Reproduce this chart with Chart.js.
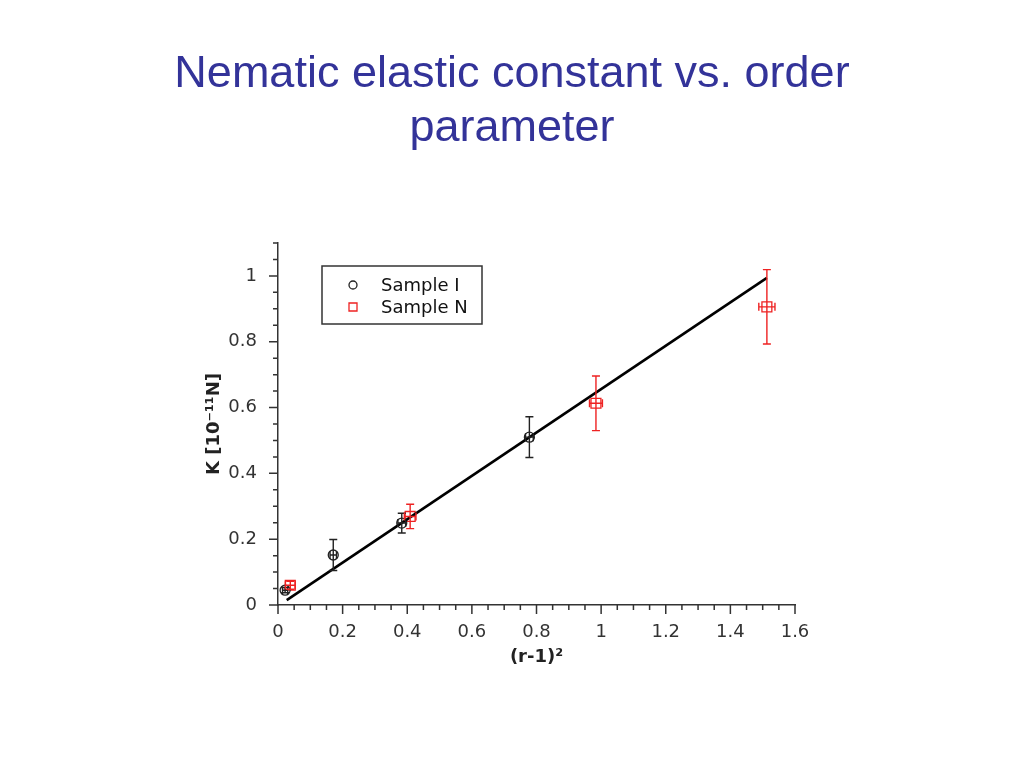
<!DOCTYPE html>
<html>
<head>
<meta charset="utf-8">
<script src="https://cdn.jsdelivr.net/npm/chart.js@4.4.1/dist/chart.umd.min.js"></script>
<style>
  html, body { margin: 0; padding: 0; background: #fff; }
  #wrap { position: relative; width: 1024px; height: 768px; }
  #kChart { position: absolute; left: 0; top: 0; }
  #title {
    position: absolute; left: 0; top: 45px; width: 1024px;
    text-align: center; color: #333399;
    font: 45px "Liberation Sans", Arial, sans-serif; line-height: 54px;
  }
</style>
</head>
<body>
<div id="wrap">
  <canvas id="kChart" width="1024" height="768"></canvas>
  <div id="title">Nematic elastic constant vs. order<br>parameter</div>
</div>
<script>
// values
const sampleIX    = [0.022, 0.171, 0.383, 0.778];
const sampleIY    = [0.045, 0.152, 0.249, 0.510];
const sampleIXErr = [0.008, 0.010, 0.012, 0.012];
const sampleIYErr = [0.008, 0.047, 0.030, 0.062];

const sampleNX    = [0.038, 0.409, 0.984, 1.513];
const sampleNY    = [0.060, 0.269, 0.613, 0.906];
const sampleNXErr = [0.015, 0.018, 0.020, 0.025];
const sampleNYErr = [0.012, 0.037, 0.083, 0.113];

const fitX = [0.027, 1.513];
const fitY = [0.015, 0.994];

const xRange = [0, 1.6];
const yRange = [0, 1.1];
const minorStep = 0.05;
const majorStep = 0.2;

const tickFont = { family: "'DejaVu Sans', sans-serif", size: 18 };
const titleFont = { family: "'DejaVu Sans', sans-serif", size: 18, weight: 'bold' };
const axisColor = '#333';
const red = '#ee2222';

const toPoints = (xs, ys) => xs.map((x, i) => ({ x: x, y: ys[i] }));
const isMajor = v => Math.abs(v / majorStep - Math.round(v / majorStep)) < 1e-6;
const tickLabel = v => isMajor(v) ? String(Math.round(v * 10) / 10) : '';

// major / minor ticks, pointing outward
const tickMarks = {
  id: 'tickMarks',
  afterDraw(chart) {
    const ctx = chart.ctx, xs = chart.scales.x, ys = chart.scales.y;
    ctx.save();
    ctx.strokeStyle = axisColor;
    ctx.lineWidth = 1.5;
    ctx.beginPath();
    xs.ticks.forEach(t => {
      const px = xs.getPixelForValue(t.value);
      ctx.moveTo(px, xs.top);
      ctx.lineTo(px, xs.top + (isMajor(t.value) ? 9 : 5));
    });
    ys.ticks.forEach(t => {
      const py = ys.getPixelForValue(t.value);
      ctx.moveTo(ys.right, py);
      ctx.lineTo(ys.right - (isMajor(t.value) ? 9 : 5), py);
    });
    ctx.stroke();
    ctx.restore();
  }
};

// error bars with caps in both directions
const errorBars = {
  id: 'errorBars',
  afterDatasetsDraw(chart) {
    const ctx = chart.ctx, xs = chart.scales.x, ys = chart.scales.y;
    const cap = 4;
    chart.data.datasets.forEach(ds => {
      if (!ds.yErr) return;
      ctx.save();
      ctx.strokeStyle = ds.borderColor;
      ctx.lineWidth = 1.4;
      ctx.beginPath();
      ds.data.forEach((p, i) => {
        const px = xs.getPixelForValue(p.x), py = ys.getPixelForValue(p.y);
        const top = ys.getPixelForValue(p.y + ds.yErr[i]);
        const bot = ys.getPixelForValue(p.y - ds.yErr[i]);
        const lft = xs.getPixelForValue(p.x - ds.xErr[i]);
        const rgt = xs.getPixelForValue(p.x + ds.xErr[i]);
        ctx.moveTo(px, top); ctx.lineTo(px, bot);
        ctx.moveTo(px - cap, top); ctx.lineTo(px + cap, top);
        ctx.moveTo(px - cap, bot); ctx.lineTo(px + cap, bot);
        ctx.moveTo(lft, py); ctx.lineTo(rgt, py);
        ctx.moveTo(lft, py - cap); ctx.lineTo(lft, py + cap);
        ctx.moveTo(rgt, py - cap); ctx.lineTo(rgt, py + cap);
      });
      ctx.stroke();
      ctx.restore();
    });
  }
};

// boxed legend inside the plot, top left
const boxLegend = {
  id: 'boxLegend',
  afterDraw(chart) {
    const ctx = chart.ctx, area = chart.chartArea;
    const bx = area.left + 44, by = area.top + 23, bw = 160, bh = 58;
    ctx.save();
    ctx.fillStyle = '#fff';
    ctx.fillRect(bx, by, bw, bh);
    ctx.strokeStyle = axisColor;
    ctx.lineWidth = 1.5;
    ctx.strokeRect(bx, by, bw, bh);
    ctx.font = "18px 'DejaVu Sans', sans-serif";
    ctx.textBaseline = 'middle';
    chart.data.datasets.filter(ds => ds.yErr).forEach((ds, i) => {
      const my = by + 19 + i * 22, mx = bx + 31;
      ctx.strokeStyle = ds.borderColor;
      ctx.lineWidth = 1.3;
      ctx.beginPath();
      if (ds.pointStyle === 'circle') ctx.arc(mx, my, 4, 0, Math.PI * 2);
      else ctx.rect(mx - 4, my - 4, 8, 8);
      ctx.stroke();
      ctx.fillStyle = '#111';
      ctx.fillText(ds.label, bx + 59, my + 1);
    });
    ctx.restore();
  }
};

new Chart(document.getElementById('kChart'), {
  type: 'scatter',
  data: {
    datasets: [
      {
        label: 'Fit',
        data: toPoints(fitX, fitY),
        showLine: true,
        borderColor: '#000',
        borderWidth: 2.6,
        pointRadius: 0,
        order: 0
      },
      {
        label: 'Sample I',
        data: toPoints(sampleIX, sampleIY),
        xErr: sampleIXErr,
        yErr: sampleIYErr,
        pointStyle: 'circle',
        pointRadius: 5,
        borderColor: '#222',
        backgroundColor: 'transparent',
        borderWidth: 1.3
      },
      {
        label: 'Sample N',
        data: toPoints(sampleNX, sampleNY),
        xErr: sampleNXErr,
        yErr: sampleNYErr,
        pointStyle: 'rect',
        pointRadius: 7,
        borderColor: red,
        backgroundColor: 'transparent',
        borderWidth: 1.3
      }
    ]
  },
  options: {
    responsive: false,
    animation: false,
    layout: { padding: { left: 190, right: 229, top: 243, bottom: 93 } },
    plugins: {
      legend: { display: false },
      tooltip: { enabled: false },
      title: { display: false }
    },
    scales: {
      x: {
        type: 'linear',
        min: xRange[0],
        max: xRange[1],
        afterFit: s => { s.height = 70; },
        grid: { display: false, drawTicks: false },
        border: { display: true, color: axisColor, width: 1.5 },
        ticks: {
          stepSize: minorStep,
          autoSkip: false,
          maxRotation: 0,
          padding: 17,
          color: axisColor,
          font: tickFont,
          callback: tickLabel
        },
        title: {
          display: true,
          text: '(r-1)²',
          color: '#222',
          font: titleFont,
          padding: { top: 0, bottom: 7 }
        }
      },
      y: {
        type: 'linear',
        min: yRange[0],
        max: yRange[1],
        afterFit: s => { s.width = 88; },
        grid: { display: false, drawTicks: false },
        border: { display: true, color: axisColor, width: 1.5 },
        ticks: {
          stepSize: minorStep,
          autoSkip: false,
          padding: 21,
          color: axisColor,
          font: tickFont,
          callback: tickLabel
        },
        title: {
          display: true,
          text: 'K [10⁻¹¹N]',
          color: '#222',
          font: titleFont,
          padding: { top: 14, bottom: 0 }
        }
      }
    }
  },
  plugins: [tickMarks, errorBars, boxLegend]
});
</script>
</body>
</html>
